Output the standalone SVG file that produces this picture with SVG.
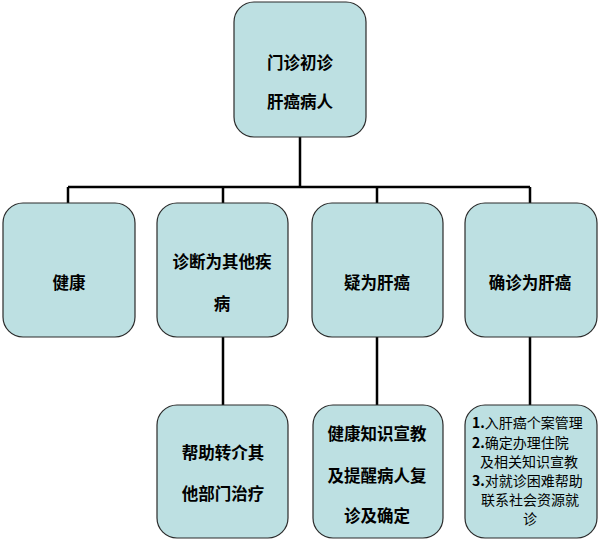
<svg xmlns="http://www.w3.org/2000/svg" width="600" height="542" viewBox="0 0 600 542">
<style>
.box{fill:#bde0e2;stroke:#2a2a2a;stroke-width:1.2}
.t{font-family:"Noto Sans CJK SC","Liberation Sans",sans-serif;font-size:16.5px;font-weight:bold;fill:#000;text-anchor:middle;dominant-baseline:central}
.s{font-family:"Noto Sans CJK SC","Liberation Sans",sans-serif;font-size:14px;fill:#000;dominant-baseline:central}
.c{fill:none;stroke:#000;stroke-width:2.5}
</style>
<rect width="600" height="542" fill="#fff"/>
<g id="connectors">
<path class="c" d="M300 137V187M68 187H530M68 187V203M223 187V203M377 187V203M530 187V203"/>
<path class="c" d="M223 337V405M377 337V405M530 337V405"/>
</g>
<g id="n-root">
<rect class="box" x="234" y="2" width="132" height="135" rx="20"/>
<text class="t" x="300" y="62">门诊初诊</text>
<text class="t" x="300" y="101">肝癌病人</text>
</g>
<g id="n-healthy">
<rect class="box" x="3" y="203" width="132" height="134" rx="20"/>
<text class="t" x="69" y="282">健康</text>
</g>
<g id="n-other">
<rect class="box" x="157" y="203" width="131" height="134" rx="20"/>
<text class="t" x="222" y="261">诊断为其他疾</text>
<text class="t" x="222" y="303">病</text>
</g>
<g id="n-suspect">
<rect class="box" x="312" y="203" width="131" height="134" rx="20"/>
<text class="t" x="377" y="282">疑为肝癌</text>
</g>
<g id="n-confirm">
<rect class="box" x="465" y="203" width="132" height="134" rx="20"/>
<text class="t" x="530" y="282">确诊为肝癌</text>
</g>
<g id="n-refer">
<rect class="box" x="157" y="405" width="131" height="133" rx="20"/>
<text class="t" x="223" y="452">帮助转介其</text>
<text class="t" x="223" y="493">他部门治疗</text>
</g>
<g id="n-educate">
<rect class="box" x="313" y="405" width="130" height="133" rx="20"/>
<text class="t" x="377" y="433">健康知识宣教</text>
<text class="t" x="377" y="475">及提醒病人复</text>
<text class="t" x="377" y="515">诊及确定</text>
</g>
<g id="n-manage">
<rect class="box" x="465" y="405" width="132" height="133" rx="20"/>
<text class="s" x="472" y="422"><tspan font-weight="bold">1.</tspan>入肝癌个案管理</text>
<text class="s" x="472" y="442"><tspan font-weight="bold">2.</tspan>确定办理住院</text>
<text class="s" x="480" y="461">及相关知识宣教</text>
<text class="s" x="472" y="480"><tspan font-weight="bold">3.</tspan>对就诊困难帮助</text>
<text class="s" x="530" y="499" text-anchor="middle">联系社会资源就</text>
<text class="s" x="530" y="518" text-anchor="middle">诊</text>
</g>
</svg>
